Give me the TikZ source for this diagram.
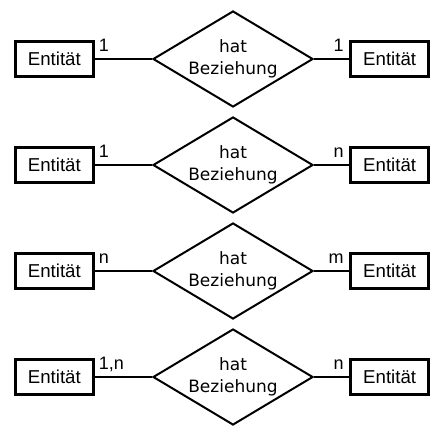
\documentclass[tikz,border=0pt]{standalone}
\usepackage{fontspec}
\setmainfont{Liberation Sans}
\newfontfamily\relfont{DejaVu Sans}
\usepackage{tikz}
\usetikzlibrary{positioning,shapes.geometric}

\begin{document}
\begin{tikzpicture}[inner sep=0pt,
	entity/.style={draw,line width=2pt,minimum width=58.5pt,minimum height=26.25pt,
		font=\fontsize{14}{16}\selectfont},
	relation/.style={draw,diamond,aspect=1.6667,line width=1.5pt,inner sep=-2pt,
		minimum width=120pt,minimum height=72pt,align=center,
		font=\relfont\fontsize{12.75}{16.5}\selectfont},
	card/.style={text depth=0pt,font=\fontsize{13.5}{15}\selectfont},
	link/.style={line width=1.5pt}]

\useasboundingbox (0,0) rectangle (330.75pt,324pt);

\coordinate (R1) at (174.75pt,279.75pt);
\coordinate (R2) at (174.75pt,200.25pt);
\coordinate (R3) at (174.75pt,120.75pt);
\coordinate (R4) at (174.75pt,41.25pt);

\node [relation] (rel1) at (R1) {hat\\Beziehung};
\node [relation] (rel2) at (R2) {hat\\Beziehung};
\node [relation] (rel3) at (R3) {hat\\Beziehung};
\node [relation] (rel4) at (R4) {hat\\Beziehung};

\node [entity,left=43pt of rel1] (entL1) {Entität};
\node [entity,left=43pt of rel2] (entL2) {Entität};
\node [entity,left=43pt of rel3] (entL3) {Entität};
\node [entity,left=43pt of rel4] (entL4) {Entität};
\node [entity,right=26.5pt of rel1] (entR1) {Entität};
\node [entity,right=26.5pt of rel2] (entR2) {Entität};
\node [entity,right=26.5pt of rel3] (entR3) {Entität};
\node [entity,right=26.5pt of rel4] (entR4) {Entität};

\draw [link]	(entL1) -- (rel1)
	(rel1) -- (entR1)
	(entL2) -- (rel2)
	(rel2) -- (entR2)
	(entL3) -- (rel3)
	(rel3) -- (entR3)
	(entL4) -- (rel4)
	(rel4) -- (entR4);


\node [card] (cL1) at (entL1.east) [above right=5.25pt and 3pt]{1};
\node [card] (cR1) at (entR1.west) [above left=5.25pt and 4pt]{1};
\node [card] (cL2) at (entL2.east) [above right=5.25pt and 3pt]{1};
\node [card] (cR2) at (entR2.west) [above left=5.25pt and 4pt]{n};
\node [card] (cL3) at (entL3.east) [above right=5.25pt and 3pt]{n};
\node [card] (cR3) at (entR3.west) [above left=5.25pt and 4pt]{m};
\node [card] (cL4) at (entL4.east) [above right=5.25pt and 3pt]{1,n};
\node [card] (cR4) at (entR4.west) [above left=5.25pt and 4pt]{n};


\end{tikzpicture}
\end{document}
